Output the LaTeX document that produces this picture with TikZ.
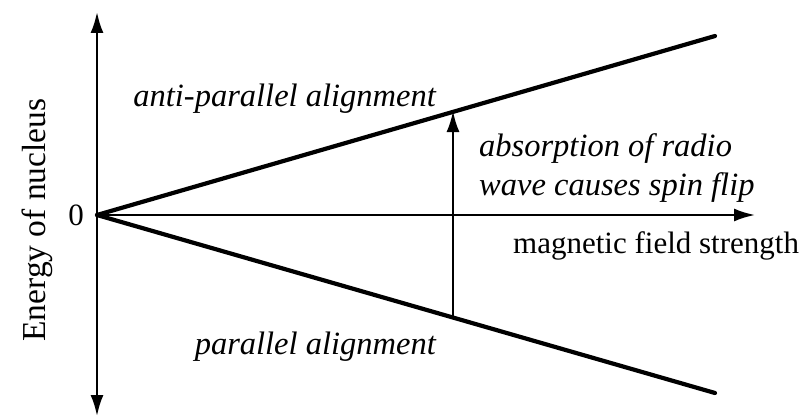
\documentclass[tikz,border=0pt]{standalone}
\usepackage{fontspec}
\setmainfont{Liberation Serif}
\usetikzlibrary{arrows.meta}
\begin{document}
\begin{tikzpicture}[x=1pt,y=-1pt,
  axis/.style={line width=2.4pt,-{Latex[length=21pt,width=13pt]}},
  level/.style={line width=4.2pt},
  lbl/.style={font=\fontsize{31}{39}\selectfont,inner sep=0pt},
  ilbl/.style={inner sep=0pt,font=\fontsize{32.5}{39}\selectfont\itshape}]
\useasboundingbox (0,0) rectangle (811,420);
\coordinate (o) at (97,215);
\coordinate (ytop) at (97,12);
\coordinate (ybot) at (97,416);
\coordinate (xend) at (755,215);
\coordinate (up) at (715,36);
\coordinate (lo) at (715,393);
\coordinate (a1) at (453,318);
\coordinate (a2) at (453,111);
\draw[axis] (o) -- (ytop);
\draw[axis] (o) -- (ybot);
\draw[axis] (o) -- (xend);
\draw[level,line cap=round] (o) -- (up);
\draw[level,line cap=round] (o) -- (lo);
\draw[axis] (a1) -- (a2);
\node[lbl] (zero) at (76,215) {0};
\node[lbl,rotate=90,font=\fontsize{33.5}{39}\selectfont] (ylab) at (37,220) {Energy of nucleus};
\node[ilbl,anchor=east] (anti) at (436,99) {anti-parallel alignment};
\node[ilbl,anchor=east] (par) at (436,347) {parallel alignment};
\node[ilbl,anchor=north west,align=left] (abs) at (479,133) {absorption of radio\\wave causes spin flip};
\node[lbl,anchor=west] (mag) at (513,246) {magnetic field strength};
\end{tikzpicture}
\end{document}
